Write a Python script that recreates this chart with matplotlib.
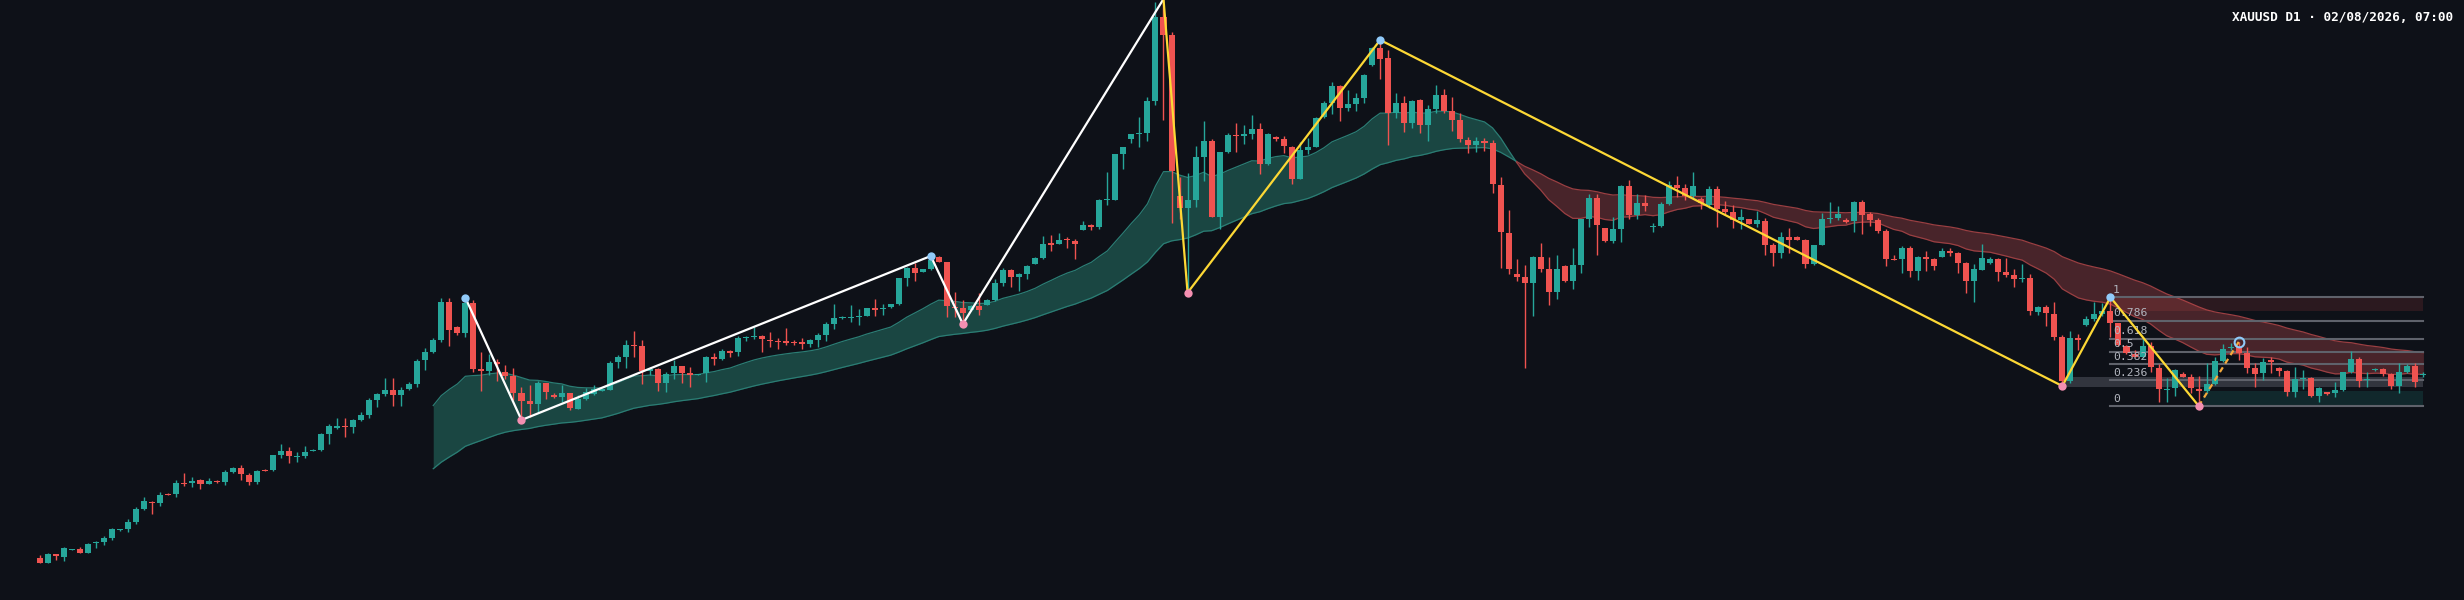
import numpy as np
import matplotlib
matplotlib.use("Agg")
import matplotlib.pyplot as plt

# --- XAUUSD D1 candles (price units) ---
opens = [41.7, 37.3, 45.7, 43.3, 50, 51, 47.3, 56.7, 57.7, 62.3,
         69.7, 70.7, 78.3, 91, 98.3, 97, 106, 106.3, 116.7, 117.3,
         119.7, 116.3, 119.3, 118.3, 127.7, 132, 125.3, 118.3, 130.3, 129.7,
         145, 149, 143.3, 144.3, 148.7, 149.7, 166.3, 172.3, 174.3, 173.3,
         179.7, 185.3, 200, 206.3, 210.3, 205, 211, 216.3, 239.7, 248,
         259.7, 298.3, 273, 267, 297, 231, 229.3, 238, 228.3, 223.7,
         207, 199, 196, 216.7, 205.3, 203, 207, 191.3, 201.3, 205.7,
         209.3, 210.3, 237.7, 243.3, 255, 253.7, 228.7, 231.3, 217, 226.7,
         233.7, 226.7, 225, 226.7, 243.3, 241, 249, 248.3, 261.7, 262.7,
         264, 260.3, 259.3, 259, 258.3, 258, 256, 260, 265.3, 276,
         281.7, 282, 283, 284.3, 292.3, 290.7, 292.7, 295.7, 322.3, 332.3,
         328.3, 330.7, 343, 338, 293.3, 291.7, 290, 294.3, 295.3, 300,
         316.7, 330, 322.7, 325.7, 336.3, 341.7, 356.7, 356, 361, 359.3,
         370, 374.7, 372.7, 400, 400.3, 445.7, 460.7, 465.7, 466.7, 499,
         583.3, 565, 404.3, 391.7, 400, 443, 459, 382.7, 447.7, 465,
         463.7, 466, 471, 436, 463, 460.7, 453.3, 421.3, 450, 453.3,
         483.3, 497, 514.3, 492.3, 496.3, 501.7, 535, 552, 541.7, 487,
         497, 477.3, 500.3, 474.7, 490.7, 504.7, 489, 480.3, 460, 455.3,
         459, 456.7, 415, 367, 326, 323, 317.3, 343.3, 331.3, 308.3,
         334.3, 319.3, 335.3, 380.7, 402.3, 372, 359, 371.3, 414.3, 385,
         397, 373, 374, 396, 415.3, 411.7, 404, 400.7, 395, 411,
         391, 388.3, 380, 380.7, 376.3, 379.3, 355.3, 347.3, 363, 363,
         360, 336.3, 355, 381, 382.3, 380, 379, 398, 385.7, 380.3,
         369.3, 341.3, 340.7, 352, 329, 343, 340.7, 343, 349, 346.7,
         336.7, 318.7, 330.3, 337, 341.3, 328, 325.3, 321, 322.3, 288.3,
         293.3, 286.3, 263, 219.3, 261.7, 274.7, 280.7, 286, 289.3, 276.7,
         254.3, 246.3, 243, 254.3, 232.3, 210, 211.7, 226, 223, 211,
         209.3, 216, 239, 251.7, 253.3, 246.7, 232, 226.7, 239.7, 232.3,
         228.7, 208, 221, 222.3, 204, 207.7, 206.7, 210, 227.7, 241,
         220, 230.3, 231, 226, 214, 228.3, 234, 225]

highs = [45, 46.7, 46.3, 53.3, 51, 52.7, 57, 58.7, 64.3, 71.7,
         71.3, 80.7, 93.3, 103, 99, 108.3, 107.3, 120, 126.7, 123,
         121, 122.3, 120.3, 130, 133, 135, 126.7, 130, 131.3, 145.3,
         156, 153, 148.3, 153.7, 151, 166.7, 176, 181.7, 182, 181,
         187.7, 201.7, 206.7, 222.3, 222, 213.3, 218, 241.3, 251.7, 261.7,
         301.7, 301.7, 273.7, 302.3, 300, 247.7, 246.3, 241, 234.7, 232,
         212.7, 214.7, 218.7, 217.3, 207, 215.3, 207.3, 205.3, 212, 214.7,
         210.7, 239.3, 245.3, 260, 269, 260, 233, 232.3, 227.7, 240,
         234.3, 232.7, 226.3, 243.7, 246.7, 250.7, 249.7, 263.7, 264, 273.3,
         264.7, 268, 262.3, 272, 260, 261.7, 261.3, 267, 278.3, 295.7,
         284, 295, 291, 292.3, 301, 296, 296, 322.3, 333.3, 336.7,
         330.7, 344, 343.7, 338.3, 308, 300, 295, 307.3, 300.7, 321,
         332.3, 331.3, 327.3, 335, 343, 364, 365, 367.3, 363, 360.7,
         379, 376.3, 400.7, 428, 446, 453.3, 466.3, 483.3, 502.7, 598.3,
         601, 567.7, 423.3, 426.7, 454, 478.7, 461, 448, 467, 477,
         474.7, 485.3, 476.7, 467, 463.7, 463.7, 454, 457.7, 462, 483.3,
         499.3, 518, 514.7, 509.7, 507, 526, 552.7, 560, 550, 507,
         504, 500, 501, 494.7, 514.7, 511, 503.3, 487.3, 463.3, 463,
         462, 460, 422.7, 390, 341, 334.7, 344, 357, 343, 345.3,
         335, 351.7, 380.7, 406, 406, 372.3, 382.7, 415, 420, 406,
         405, 377.3, 398, 418.7, 424, 415.7, 428.3, 403.3, 414.3, 414,
         399, 394.7, 391, 381, 389.3, 382, 357.3, 368, 371.7, 363.7,
         360.7, 355.3, 387.3, 397.7, 394, 381.7, 398.7, 400, 388, 381.7,
         370.7, 345, 353.7, 354, 344.3, 349.3, 341.7, 351.7, 352.3, 347.7,
         338.3, 335.7, 355.7, 343, 342.3, 342.3, 331, 335.7, 325.7, 294,
         295.3, 298, 264.7, 269, 266.5, 284, 298.3, 297.3, 302.7, 277.3,
         254.7, 250, 260.7, 258.3, 236, 221.7, 230.7, 228.3, 225.7, 224,
         236.7, 243.3, 255.7, 256.7, 258.3, 252.7, 236.7, 241.7, 242.7, 232.7,
         230, 233.3, 230, 223.3, 213.3, 208, 218, 228.3, 249, 242.7,
         228.3, 232.3, 232.3, 226.7, 236.7, 235.7, 237.3, 228.3]

lows = [37.3, 37, 40, 39.3, 50, 47, 46.7, 52.3, 55, 59.7,
        69, 68, 76, 90.3, 86, 94.3, 105, 103, 114, 113,
        111.3, 116, 117.3, 115, 127, 120, 115, 116.3, 129.3, 129.3,
        142.3, 137.3, 138.3, 142, 148.7, 149, 156.3, 171, 163, 167.3,
        178.7, 182.3, 193, 204, 194, 194.3, 210, 213.3, 230, 246.7,
        258.3, 254, 265.3, 262.7, 228.3, 209, 224.7, 218.7, 220.7, 200,
        180, 182.7, 186.7, 200.7, 202.3, 198, 190.3, 190.7, 200, 205,
        209.3, 209.7, 231.7, 232.3, 243.3, 215.7, 225, 209.3, 207.7, 221.3,
        217.3, 213.3, 224.7, 217.7, 235, 240, 243.3, 244.3, 258.7, 261,
        248.3, 253.3, 251, 255.3, 255.3, 251, 252.7, 252.7, 258.7, 271,
        281.3, 278.3, 274.7, 283.7, 284.3, 284.7, 292.3, 295.3, 314.3, 319,
        328.3, 330, 337.7, 282.7, 282.7, 276, 289, 284.7, 294.7, 299.3,
        314, 312.7, 309, 320.7, 336, 340.7, 349.3, 355.7, 352, 341,
        370, 370, 371.3, 395.3, 400, 431, 456.7, 453, 459.3, 495,
        480, 377.3, 381, 307.3, 392.7, 419.3, 382.7, 370.7, 447, 448.3,
        456, 460.7, 425.7, 434.7, 458.7, 447.3, 416.3, 420.7, 446, 452.7,
        481.7, 486.3, 479, 489.3, 488.7, 497.3, 534, 520.7, 455, 482,
        468.3, 471.7, 466.7, 459.3, 486.7, 487, 469, 458, 447.5, 448.3,
        449.3, 407.3, 332.3, 326, 319.3, 232.3, 283.7, 328.3, 294.7, 301,
        317.7, 311.3, 327.3, 373.3, 345, 357.7, 356.7, 358.3, 381.3, 381.3,
        389, 367.7, 372.7, 394.7, 403.3, 399.7, 402.3, 391, 391.7, 373.3,
        386, 372.3, 371, 376, 372.7, 345, 334.3, 342.3, 346.7, 359.7,
        332.3, 335.3, 354.7, 376.7, 380, 376.7, 368.3, 366.3, 373.7, 367.3,
        334.3, 339.7, 326.7, 323, 320, 329.3, 329.7, 342.7, 344.3, 327.3,
        306.7, 298.3, 330, 336.3, 319, 322.7, 312.7, 317.7, 285, 285,
        274, 259.7, 214, 216.7, 250.5, 274.3, 278.7, 284, 263.3, 253.7,
        245.7, 243, 242, 228.3, 198.3, 198.3, 204, 222.7, 206.7, 194,
        207.3, 215.3, 238, 250, 240, 227.3, 213.3, 220, 226.7, 224,
        204, 203.3, 211, 203.3, 198, 205.3, 203.3, 209.3, 226.7, 213.3,
        213.3, 229, 224, 210.7, 206.7, 227.3, 212.7, 223.3]

closes = [37.3, 45.7, 43.7, 52, 51, 47.3, 56.3, 58, 62.3, 70.7,
          71, 78, 91, 98.7, 96.7, 105, 105, 117, 115.7, 119.3,
          116.3, 119, 118, 127.7, 131.7, 125.7, 118.3, 129.3, 129.3, 145,
          149.3, 144, 144.3, 148.3, 150, 166, 173.7, 174.3, 172.7, 179.7,
          185.3, 200, 206, 210.3, 205.3, 210, 216, 239.3, 247.7, 259.7,
          298.3, 270, 267, 297.3, 231, 229.3, 238, 235.7, 223.7, 207.3,
          199.3, 196, 217, 208.3, 203, 207, 191.7, 201, 208.3, 211.3,
          210.7, 237.3, 243, 254.7, 253.7, 228.7, 231, 217, 226.3, 233.7,
          227.3, 224.7, 226, 243, 240.7, 249, 247.3, 262.3, 263, 264.3,
          260.7, 259, 258, 257.3, 257, 256.3, 260, 265.3, 276, 282.3,
          283.3, 283.3, 284.3, 292, 290.3, 292.3, 296, 321.7, 332.3, 327.3,
          330.7, 340, 338.3, 293.7, 291.7, 287, 294.3, 290, 300, 316.7,
          330, 322.7, 326, 334, 341.7, 356, 355, 360.3, 359.7, 355.7,
          374.7, 372.7, 400, 401, 445.7, 453, 465.7, 467.3, 499, 583.3,
          565, 429.3, 391.7, 399.7, 443, 458.7, 382.7, 447.7, 464.7, 463.7,
          466, 471, 436, 466.3, 461, 453.7, 421.3, 450, 453.3, 482,
          497, 514.3, 492.3, 496.3, 501.7, 525, 552, 541.3, 487, 497,
          477.3, 499, 474.7, 490.7, 504.7, 489, 480.3, 461, 455.3, 459,
          456.7, 415.7, 367.7, 331.3, 323.3, 317.3, 343.3, 331.3, 308.3, 330.7,
          318.7, 335, 380.7, 402.3, 375, 359.3, 371.3, 414.3, 385.3, 397.3,
          393.7, 374, 395.7, 415, 412.3, 404, 414.3, 397.3, 411, 391.3,
          388, 380, 383.3, 376.3, 379.7, 355.3, 347.3, 363, 360.3, 360,
          336.3, 355, 381, 382.3, 385.7, 377.7, 398, 385.3, 380.3, 369.3,
          341.3, 340, 352, 329, 343.3, 340.7, 333.7, 348.7, 347, 336.7,
          318.7, 330.7, 342, 341.3, 328, 325.3, 321.3, 322.3, 289, 293.3,
          286.7, 262.7, 219.3, 262.3, 260.5, 280.7, 286, 289.3, 276.7, 254.7,
          246.7, 243.3, 254.3, 232.7, 211, 211.3, 230, 223.3, 211.7, 209,
          216, 239, 251, 252.7, 246.7, 232, 226.3, 238, 238, 229,
          208, 221, 222.3, 204.3, 212.3, 206, 210, 227.7, 241, 219.3,
          221.3, 231.3, 225.7, 214, 228.3, 234, 218.3, 226]

# zigzag swing points (bar index, 'H' = swing high / 'L' = swing low)
zz_white = [(53, 'H'), (60, 'L'), (111, 'H'), (115, 'L'), (140, 'H')]
zz_yellow = [(140, 'H'), (143, 'L'), (167, 'H'), (252, 'L'), (258, 'H'), (269, 'L')]
zz_pending = [(269, 'L'), (274, 'H')]
hidden_pivots = [140]

fib_levels = [0, 0.236, 0.382, 0.5, 0.618, 0.786, 1]
fib_labels = ['0', '0.236', '0.382', '0.5', '0.618', '0.786', '1']
fib_hi_bar, fib_lo_bar = 258, 269

# gray (broken) demand zone from the 252 low
gray_zone = (252, 213.5, 223.3)

title = "XAUUSD D1 · 02/08/2026, 07:00"

BG = '#0e1118'
UP = '#26a69a'
DN = '#ef5350'

o = np.array(opens); h = np.array(highs); l = np.array(lows); c = np.array(closes)
n = len(c)
x = np.arange(n)


def ema(vals, span):
    out = np.full(len(vals), np.nan)
    out[span - 1] = vals[:span].mean()
    k = 2.0 / (span + 1)
    for i in range(span, len(vals)):
        out[i] = vals[i] * k + out[i - 1] * (1 - k)
    return out


fast = ema(c, 20)
slow = ema(c, 50)

fig = plt.figure(figsize=(24.64, 6.0), dpi=100, facecolor=BG)
ax = fig.add_axes([0, 0, 1, 1])
ax.set_facecolor(BG)
ax.set_xlim(-40 / 8.025, (2464 - 40) / 8.025)
ax.set_ylim(0, 600)
ax.axis('off')

# EMA ribbon
m = ~np.isnan(slow)
xs, fs, ss = x[m], fast[m], slow[m]
ax.fill_between(xs, fs, ss, where=fs >= ss, interpolate=True, color='#1a4642', lw=0, zorder=1)
ax.fill_between(xs, fs, ss, where=fs < ss, interpolate=True, color='#48242a', lw=0, zorder=1)
bull = fs >= ss
for mask, col in ((bull, '#2b7d74'), (~bull, '#9a3f42')):
    mm = mask.copy()
    # extend by one bar so the segments join at the cross
    mm[1:] |= mask[:-1]
    ax.plot(xs, np.where(mm, fs, np.nan), color=col, lw=0.9, zorder=2)
    ax.plot(xs, np.where(mm, ss, np.nan), color=col, lw=0.9, zorder=2)

# fib zones
hi_p = h[fib_hi_bar]
lo_p = l[fib_lo_bar]
last = n - 1
ax.fill_between([fib_hi_bar, last], o[fib_hi_bar], hi_p, color=DN, alpha=0.13, lw=0, zorder=2)
ax.fill_between([fib_lo_bar + 0.5, last], lo_p, max(o[fib_lo_bar], c[fib_lo_bar]) - 1.8,
                color=UP, alpha=0.16, lw=0, zorder=2)
ax.fill_between([gray_zone[0], last], gray_zone[1], gray_zone[2], color='#787b86', alpha=0.35, lw=0, zorder=2)

for lev, lab in zip(fib_levels, fib_labels):
    p = lo_p + lev * (hi_p - lo_p)
    ax.plot([fib_hi_bar, last], [p, p], color='#5f626b', lw=1.5, zorder=3)
    ax.text(fib_hi_bar + 0.3, p + 2.5, lab, color='#b2b5be', fontsize=8.2,
            family='DejaVu Sans Mono', ha='left', va='bottom', zorder=6)

# candles
up = c >= o
cols = np.where(up, UP, DN)
ax.vlines(x, l, h, colors=cols, lw=1.0, zorder=4)
body_lo = np.minimum(o, c)
body_h = np.maximum(np.abs(c - o), 0.9)
ax.bar(x, body_h, bottom=body_lo, width=0.75, color=cols, lw=0, zorder=5)


def piv_price(b, kind):
    return h[b] if kind == 'H' else l[b]


def zz_xy(pts):
    return [p[0] for p in pts], [piv_price(b, k) for b, k in pts]


wx, wy = zz_xy(zz_white)
ax.plot(wx, wy, color='white', lw=1.6, zorder=7, solid_capstyle='round')
yx, yy = zz_xy(zz_yellow)
ax.plot(yx, yy, color='#fdd835', lw=1.6, zorder=7, solid_capstyle='round')
px, py = zz_xy(zz_pending)
ax.plot(px, py, color='#f5a93b', lw=1.6, ls=(0, (2.5, 2)), zorder=7)

for b, k in zz_white + zz_yellow[1:]:
    if b in hidden_pivots:
        continue
    ax.plot(b, piv_price(b, k), 'o', ms=6, mec='none',
            color='#90caf9' if k == 'H' else '#f48fb1', zorder=8)
b, k = zz_pending[-1]
ax.plot(b, piv_price(b, k), 'o', ms=7, mfc='none', mec='#90caf9', mew=1.5, zorder=8)

fig.text(2453 / 2464, 1 - 11 / 600, title, ha='right', va='top', color='white',
         fontsize=9.2, fontweight='bold', family='DejaVu Sans Mono')

fig.savefig('out.png', dpi=100, facecolor=BG)
